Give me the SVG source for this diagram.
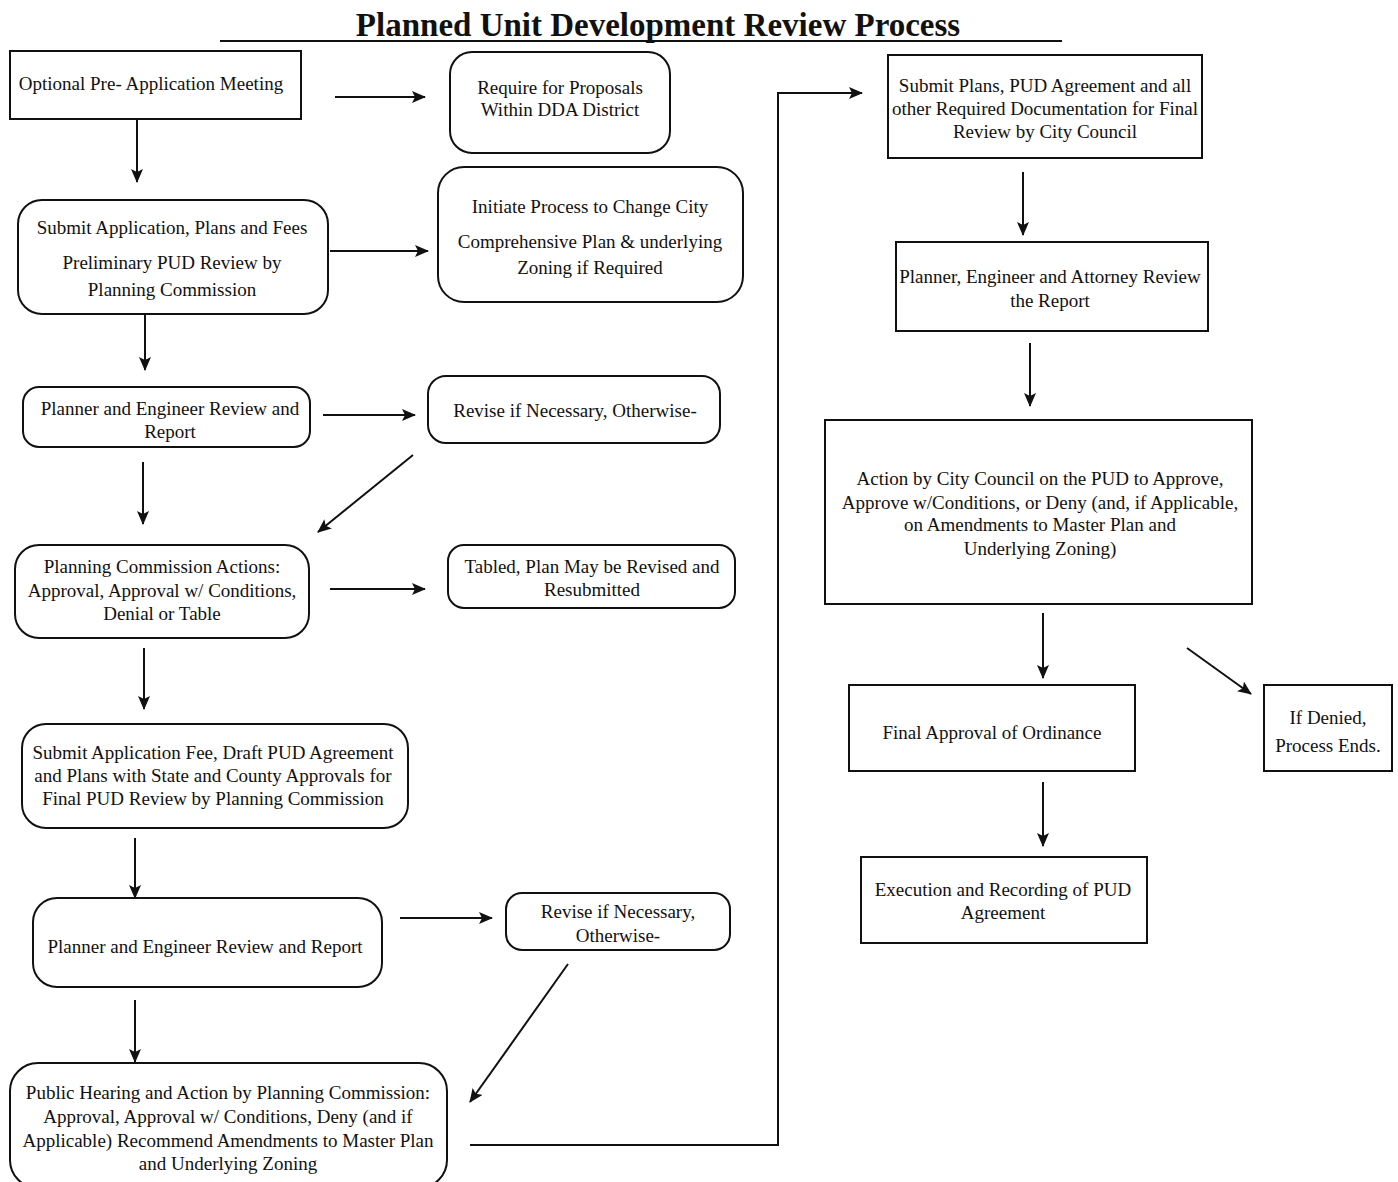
<svg xmlns="http://www.w3.org/2000/svg" width="1398" height="1182" viewBox="0 0 1398 1182">
<style>
.box{fill:#fff;stroke:#111;stroke-width:2}
.t{font-family:"Liberation Serif","Times New Roman",serif;font-size:19px;fill:#111;text-anchor:middle}
.title{font-family:"Liberation Serif","Times New Roman",serif;font-size:33px;font-weight:bold;fill:#111;text-anchor:middle}
.c{fill:none;stroke:#111;stroke-width:2}
</style>
<defs>
<marker id="ah" markerUnits="userSpaceOnUse" markerWidth="14" markerHeight="12" viewBox="0 0 14 12" refX="13" refY="6" orient="auto">
<path d="M0,0 L14,6 L0,12 L3,6 Z" fill="#111"/>
</marker>
</defs>
<rect width="1398" height="1182" fill="#fff"/>
<g id="title">
<text class="title" x="658" y="36">Planned Unit Development Review Process</text>
<line x1="220" y1="41" x2="1062" y2="41" stroke="#111" stroke-width="2"/>
</g>
<g id="n1"><rect class="box" x="10" y="51" width="291" height="68"/>
<text class="t" x="151" y="90">Optional Pre- Application Meeting</text></g>
<g id="n2"><rect class="box" x="450" y="52" width="220" height="101" rx="22"/>
<text class="t" x="560" y="94">Require for Proposals</text>
<text class="t" x="560" y="116">Within DDA District</text></g>
<g id="n3"><rect class="box" x="18" y="200" width="310" height="114" rx="24"/>
<text class="t" x="172" y="234">Submit Application, Plans and  Fees</text>
<text class="t" x="172" y="269">Preliminary PUD  Review by</text>
<text class="t" x="172" y="296">Planning Commission</text></g>
<g id="n4"><rect class="box" x="438" y="167" width="305" height="135" rx="26"/>
<text class="t" x="590" y="213">Initiate Process to Change City</text>
<text class="t" x="590" y="248">Comprehensive  Plan &amp;  underlying</text>
<text class="t" x="590" y="274">Zoning if Required</text></g>
<g id="n5"><rect class="box" x="23" y="387" width="287" height="60" rx="16"/>
<text class="t" x="170" y="415">Planner and Engineer Review and</text>
<text class="t" x="170" y="438">Report</text></g>
<g id="n6"><rect class="box" x="428" y="376" width="292" height="67" rx="18"/>
<text class="t" x="575" y="417">Revise if Necessary, Otherwise-</text></g>
<g id="n7"><rect class="box" x="15" y="545" width="294" height="93" rx="24"/>
<text class="t" x="162" y="573">Planning Commission Actions:</text>
<text class="t" x="162" y="597">Approval, Approval w/ Conditions,</text>
<text class="t" x="162" y="620">Denial or Table</text></g>
<g id="n8"><rect class="box" x="448" y="545" width="287" height="63" rx="16"/>
<text class="t" x="592" y="573">Tabled, Plan May be Revised and</text>
<text class="t" x="592" y="596">Resubmitted</text></g>
<g id="n9"><rect class="box" x="22" y="724" width="386" height="104" rx="24"/>
<text class="t" x="213" y="759">Submit Application Fee, Draft PUD Agreement</text>
<text class="t" x="213" y="782">and Plans with State and County Approvals for</text>
<text class="t" x="213" y="805">Final PUD Review by Planning Commission</text></g>
<g id="n10"><rect class="box" x="33" y="898" width="349" height="89" rx="24"/>
<text class="t" x="205" y="953">Planner and Engineer Review and Report</text></g>
<g id="n11"><rect class="box" x="506" y="893" width="224" height="57" rx="16"/>
<text class="t" x="618" y="918">Revise if Necessary,</text>
<text class="t" x="618" y="942">Otherwise-</text></g>
<g id="n12"><rect class="box" x="10" y="1063" width="437" height="125" rx="28"/>
<text class="t" x="228" y="1099">Public Hearing and Action by Planning Commission:</text>
<text class="t" x="228" y="1123">Approval, Approval w/ Conditions, Deny (and if</text>
<text class="t" x="228" y="1147">Applicable) Recommend Amendments to Master Plan</text>
<text class="t" x="228" y="1170">and Underlying Zoning</text></g>
<g id="n13"><rect class="box" x="888" y="55" width="314" height="103"/>
<text class="t" x="1045" y="92">Submit Plans, PUD Agreement and all</text>
<text class="t" x="1045" y="115">other Required Documentation for Final</text>
<text class="t" x="1045" y="138">Review by City Council</text></g>
<g id="n14"><rect class="box" x="896" y="242" width="312" height="89"/>
<text class="t" x="1050" y="283">Planner, Engineer and Attorney Review</text>
<text class="t" x="1050" y="307">the Report</text></g>
<g id="n15"><rect class="box" x="825" y="420" width="427" height="184"/>
<text class="t" x="1040" y="485">Action by City Council on the PUD to Approve,</text>
<text class="t" x="1040" y="509">Approve w/Conditions, or Deny (and, if Applicable,</text>
<text class="t" x="1040" y="531">on Amendments to Master Plan and</text>
<text class="t" x="1040" y="555">Underlying Zoning)</text></g>
<g id="n16"><rect class="box" x="849" y="685" width="286" height="86"/>
<text class="t" x="992" y="739">Final Approval of Ordinance</text></g>
<g id="n17"><rect class="box" x="1264" y="685" width="128" height="86"/>
<text class="t" x="1328" y="724">If Denied,</text>
<text class="t" x="1328" y="752">Process Ends.</text></g>
<g id="n18"><rect class="box" x="861" y="857" width="286" height="86"/>
<text class="t" x="1003" y="896">Execution and Recording of PUD</text>
<text class="t" x="1003" y="919">Agreement</text></g>
<g id="connectors">
<line class="c" x1="335" y1="97" x2="425" y2="97" marker-end="url(#ah)"/>
<line class="c" x1="137" y1="120" x2="137" y2="182" marker-end="url(#ah)"/>
<line class="c" x1="330" y1="251" x2="428" y2="251" marker-end="url(#ah)"/>
<line class="c" x1="145" y1="315" x2="145" y2="370" marker-end="url(#ah)"/>
<line class="c" x1="323" y1="415" x2="415" y2="415" marker-end="url(#ah)"/>
<line class="c" x1="413" y1="455" x2="318" y2="532" marker-end="url(#ah)"/>
<line class="c" x1="143" y1="462" x2="143" y2="524" marker-end="url(#ah)"/>
<line class="c" x1="330" y1="589" x2="425" y2="589" marker-end="url(#ah)"/>
<line class="c" x1="144" y1="648" x2="144" y2="709" marker-end="url(#ah)"/>
<line class="c" x1="135" y1="838" x2="135" y2="898" marker-end="url(#ah)"/>
<line class="c" x1="400" y1="918" x2="492" y2="918" marker-end="url(#ah)"/>
<line class="c" x1="568" y1="964" x2="470" y2="1102" marker-end="url(#ah)"/>
<line class="c" x1="135" y1="1000" x2="135" y2="1062" marker-end="url(#ah)"/>
<polyline class="c" points="470,1145 778,1145 778,93 862,93" marker-end="url(#ah)"/>
<line class="c" x1="1023" y1="172" x2="1023" y2="235" marker-end="url(#ah)"/>
<line class="c" x1="1030" y1="343" x2="1030" y2="406" marker-end="url(#ah)"/>
<line class="c" x1="1043" y1="613" x2="1043" y2="678" marker-end="url(#ah)"/>
<line class="c" x1="1187" y1="648" x2="1251" y2="694" marker-end="url(#ah)"/>
<line class="c" x1="1043" y1="782" x2="1043" y2="846" marker-end="url(#ah)"/>
</g>
</svg>
